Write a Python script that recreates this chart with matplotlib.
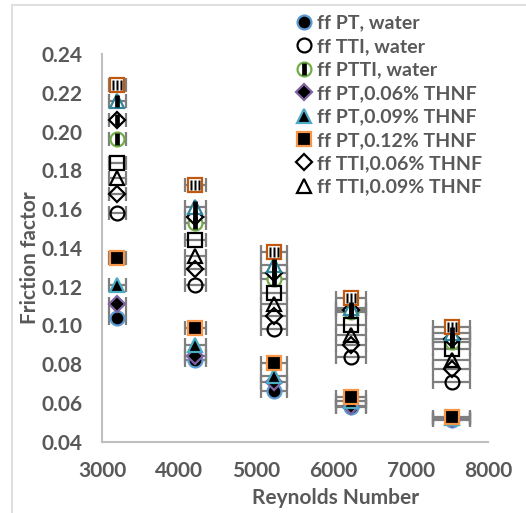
import numpy as np
import matplotlib
matplotlib.use('Agg')
import matplotlib.pyplot as plt
from matplotlib.path import Path
from matplotlib.patches import Rectangle

# Reynolds numbers of the five test runs
reynolds = [3200, 4210, 5230, 6225, 7530]
re_err = [104, 130, 170, 195, 240]

# friction factor for each configuration
ff_pt_water = [0.104, 0.082, 0.066, 0.058, 0.051]
ff_tti_water = [0.158, 0.121, 0.098, 0.0835, 0.071]
ff_ptti_water = [0.196, 0.153, 0.124, 0.107, 0.0916]
ff_pt_006 = [0.111, 0.084, 0.071, 0.0585, 0.0515]
ff_pt_009 = [0.121, 0.090, 0.074, 0.061, 0.052]
ff_pt_012 = [0.135, 0.0985, 0.0804, 0.0632, 0.0529]
ff_tti_006 = [0.168, 0.129, 0.105, 0.090, 0.0773]
ff_tti_009 = [0.176, 0.136, 0.111, 0.095, 0.082]
ff_tti_012 = [0.1836, 0.144, 0.1166, 0.100, 0.088]
ff_ptti_006 = [0.206, 0.156, 0.127, 0.108, 0.093]
ff_ptti_009 = [0.2155, 0.161, 0.131, 0.109, 0.096]
ff_ptti_012 = [0.224, 0.1724, 0.138, 0.114, 0.0993]

labels = ['ff PT, water', 'ff TTI, water', 'ff PTTI, water', 'ff PT,0.06% THNF',
          'ff PT,0.09% THNF', 'ff PT,0.12% THNF', 'ff TTI,0.06% THNF', 'ff TTI,0.09% THNF',
          'ff TTI,0.12% THNF', 'ff PTTI,0.06% THNF', 'ff PTTI,0.09% THNF', 'ff PTTI,0.12% THNF']

# three vertical bars for the striped squares
def bars(xs, w):
    verts, codes = [], []
    for x in xs:
        verts += [(x - w, -0.5), (x + w, -0.5), (x + w, 0.5), (x - w, 0.5), (x - w, -0.5)]
        codes += [Path.MOVETO, Path.LINETO, Path.LINETO, Path.LINETO, Path.CLOSEPOLY]
    return Path(verts, codes)

three_bars = bars([-0.4, 0.0, 0.4], 0.1)

# (values, marker, face, edge, stripe)
series = [
    (ff_pt_water, 'o', 'black', '#5b9bd5', None),
    (ff_tti_water, 'o', 'none', 'black', None),
    (ff_ptti_water, 'o', 'white', '#70ad47', '|'),
    (ff_pt_006, 'D', 'black', '#8064a2', None),
    (ff_pt_009, '^', 'black', '#4bacc6', None),
    (ff_pt_012, 's', 'black', '#f79646', None),
    (ff_tti_006, 'D', 'none', 'black', None),
    (ff_tti_009, '^', 'none', 'black', None),
    (ff_tti_012, 's', 'none', 'black', None),
    (ff_ptti_006, 'D', 'white', 'black', '|'),
    (ff_ptti_009, '^', 'white', '#31859c', '|'),
    (ff_ptti_012, 's', 'white', '#c0590f', three_bars),
]

plt.rcParams['font.family'] = ['Lato', 'DejaVu Sans']
grey = '#595959'

fig = plt.figure(figsize=(5.26, 5.13), dpi=100)
ax = fig.add_axes([0.194, 0.139, 0.734, 0.7558])

handles = []
for i, (vals, mk, fc, ec, stripe) in enumerate(series):
    ax.errorbar(reynolds, vals, xerr=re_err, fmt='none', ecolor='#7f7f7f',
                elinewidth=1.6, capsize=5, capthick=1.6, zorder=2 + i * 0.01)
    size = {'o': 10, 'D': 8, '^': 10.5, 's': 10}[mk]
    h, = ax.plot(reynolds, vals, linestyle='none', marker=mk, markersize=size,
                 markerfacecolor=fc, markeredgecolor=ec, markeredgewidth=1.6,
                 zorder=3 + i * 0.01)
    if stripe == '|':
        s, = ax.plot(reynolds, vals, linestyle='none', marker='|', markersize=8.5,
                     markeredgecolor='black', markeredgewidth=3.4, zorder=4 + i * 0.01)
        h = (h, s)
    elif stripe is not None:
        s, = ax.plot(reynolds, vals, linestyle='none', marker=stripe, markersize=7,
                     markerfacecolor='black', markeredgecolor='none', zorder=4 + i * 0.01)
        h = (h, s)
    handles.append(h)

ax.set_xlim(3000, 8000)
ax.set_ylim(0.04, 0.24)
ax.set_xticks(np.arange(3000, 8001, 1000))
ax.set_yticks(np.arange(0.04, 0.2401, 0.02))
ax.yaxis.set_major_formatter(matplotlib.ticker.FormatStrFormatter('%.2f'))
ax.tick_params(length=0, labelsize=15, colors=grey, pad=14)
for lab in ax.get_xticklabels() + ax.get_yticklabels():
    lab.set_fontweight('bold')

for side in ['top', 'right']:
    ax.spines[side].set_visible(False)
for side in ['left', 'bottom']:
    ax.spines[side].set_color('#bfbfbf')
    ax.spines[side].set_linewidth(1.5)

fig.text(30 / 526, 1 - 258 / 513, 'Friction factor', fontsize=15, fontweight='bold',
         color=grey, rotation=90, ha='center', va='center')
fig.text(335.5 / 526, 1 - 498 / 513, 'Reynolds Number', fontsize=15, fontweight='bold',
         color=grey, ha='center', va='center')

# only the first eight series fit in the legend
leg = fig.legend(handles[:8], labels[:8], loc='upper left', bbox_to_anchor=(286 / 526, 1 - 5 / 513),
                 frameon=False, fontsize=14, handlelength=0.8, handletextpad=0.3,
                 labelspacing=0.33, borderpad=0)
for t in leg.get_texts():
    t.set_color(grey)
    t.set_fontweight('bold')

# chart area border
fig.patches.append(Rectangle((12 / 526, -0.1), 1.2, 1.1 - 5 / 513, transform=fig.transFigure,
                             fill=False, edgecolor='#d9d9d9', linewidth=1.2))

fig.savefig('out.png', dpi=100)
